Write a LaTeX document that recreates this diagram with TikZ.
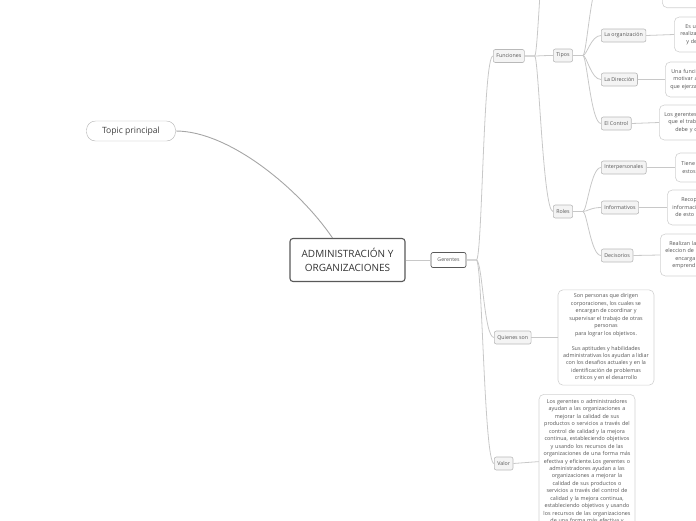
\documentclass[tikz,border=0pt]{standalone}
\usepackage{fontspec}
\setmainfont{Open Sans}
\usepackage{xcolor}
\usetikzlibrary{calc}
\definecolor{trazo}{HTML}{C8C8C8}
\definecolor{letra}{HTML}{555555}
\tikzset{
  tema/.style={draw=gray!60,fill=white,rounded corners=9pt,minimum width=89pt,minimum height=20pt,inner sep=0pt,font=\fontsize{8.6}{10}\selectfont,text=black!75},
  central/.style={draw=black!65,line width=1.1pt,fill=white,rounded corners=3pt,minimum width=115pt,minimum height=43pt,align=center,font=\fontsize{10}{13.8}\selectfont,text=black!80},
  rama/.style={draw=black!65,line width=0.7pt,fill=white,rounded corners=2pt,minimum width=35pt,minimum height=15pt,inner sep=0pt,font=\fontsize{5.2}{6}\selectfont,text=letra},
  tema2/.style={draw=gray!55,line width=0.6pt,fill=gray!9,rounded corners=2pt,minimum height=13pt,inner xsep=3pt,inner ysep=0pt,anchor=west,font=\fontsize{5.3}{6}\selectfont,text=letra},
  hoja/.style={draw=gray!35,line width=0.6pt,fill=white,rounded corners=5pt,align=center,inner sep=4pt,font=\fontsize{5.4}{7.45}\selectfont,text=letra},
  corte/.style={hoja,anchor=west,align=left,text width=60pt,minimum width=70pt},
  enlace/.style={draw=trazo,line width=0.8pt},
  enlace0/.style={draw=gray!70,line width=0.9pt}
}

\begin{document}
\begin{tikzpicture}[x=1pt,y=-1pt]
\useasboundingbox (0,0) rectangle (696,520);
\clip (0,0) rectangle (696,520);
% nodos principales
\node[tema] (topic) at (131,131) {Topic principal};
\node[central] (admin) at (347.5,260) {ADMINISTRACIÓN Y\\ORGANIZACIONES};
\node[rama] (ger) at (448.5,260) {Gerentes};
% segundo nivel
\node[tema2] (fun) at (493,56) {Funciones};
\node[tema2] (quien) at (494,337.5) {Quienes son};
\node[tema2] (valor) at (494,463.5) {Valor};
% funciones
\coordinate (otra) at (553,-120);
\node[tema2] (tipos) at (553,55.5) {Tipos};
\node[tema2] (roles) at (553,211.5) {Roles};
% tipos
\coordinate (plan) at (601,-22);
\node[tema2] (org) at (601,35.5) {La organización};
\node[tema2] (dir) at (601,79.5) {La Dirección};
\node[tema2] (ctrl) at (601,123.5) {El Control};
% roles
\node[tema2] (inter) at (601,167.5) {Interpersonales};
\node[tema2] (info) at (601,207.5) {Informativos};
\node[tema2] (deci) at (601,255.5) {Decisorios};
% hojas cortadas por el borde
\node[hoja,anchor=south west,minimum width=70pt,minimum height=34pt] (planhoja) at (662,8) {};
\node[corte,minimum height=35pt] (orghoja) at (674,34.5) {\hspace*{6pt}Es un\\\hspace*{1pt}realiza\\\hspace*{7pt}y de};
\node[corte,minimum height=35pt] (dirhoja) at (665,79.5) {\hspace*{1pt}Una funció\\\hspace*{3pt}motivar a\\que ejerza};
\node[corte,minimum height=35pt] (ctrlhoja) at (659,122.5) {Los gerentes\\\hspace*{4pt}que el trabaj\\\hspace*{11pt}debe y q};
\node[corte,minimum height=29pt] (interhoja) at (675,167.5) {\hspace*{1pt}Tiene\\\hspace*{2pt}estos};
\node[corte,minimum height=35pt] (infohoja) at (667,207.5) {\hspace*{9pt}Recop\\informaci\\\hspace*{3pt}de esto s};
\node[corte,minimum height=42pt] (decihoja) at (660,255) {\hspace*{4pt}Realizan la\\eleccion de\\\hspace*{10pt}encarga\\\hspace*{7pt}emprend};
% hojas completas
\node[hoja,minimum width=96pt,minimum height=94pt] (quienhoja) at (606,337.5) {Son personas que dirigen\\corporaciones, los cuales se\\encargan de coordinar y\\supervisar el trabajo de otras\\personas\\para lograr los objetivos.\\[7.45pt]Sus aptitudes y habilidades\\administrativas los ayudan a lidiar\\con los desafios actuales y en la\\identificación de problemas\\criticos y en el desarrollo};
\node[hoja,anchor=north,text width=88pt,inner ysep=5pt] (valorhoja) at (587,394) {Los gerentes o administradores\\ayudan a las organizaciones a\\mejorar la calidad de sus\\productos o servicios a través del\\control de calidad y la mejora\\continua, estableciendo objetivos\\y usando los recursos de las\\organizaciones de una forma más\\efectiva y eficiente.Los gerentes o\\administradores ayudan a las\\organizaciones a mejorar la\\calidad de sus productos o\\servicios a través del control de\\calidad y la mejora continua,\\estableciendo objetivos y usando\\los recursos de las organizaciones\\de una forma más efectiva y};
% conectores
\draw[enlace0] (topic.east) .. controls (230,131) and (300,190) .. ([xshift=-15pt]admin.north);
\draw[enlace] (admin.east) -- (ger.west);
\foreach \hijo in {fun,quien,valor}
  \draw[enlace] (ger.east) -- ++(10,0) .. controls +(6,0) and +(-10,0) .. (\hijo.west);
\draw[enlace] (fun.east) -- ++(10,0) .. controls +(4,0) and +(-10,0) .. (otra);
\foreach \hijo in {tipos,roles}
  \draw[enlace] (fun.east) -- ++(10,0) .. controls +(4,0) and +(-10,0) .. (\hijo.west);
\draw[enlace] (tipos.east) -- ++(10,0) .. controls +(4,0) and +(-10,0) .. (plan);
\foreach \hijo in {org,dir,ctrl}
  \draw[enlace] (tipos.east) -- ++(10,0) .. controls +(4,0) and +(-10,0) .. (\hijo.west);
\foreach \hijo in {inter,info,deci}
  \draw[enlace] (roles.east) -- ++(10,0) .. controls +(4,0) and +(-10,0) .. (\hijo.west);
\foreach \hijo in {org,dir,ctrl,inter,info,deci,quien,valor}
  \draw[enlace] (\hijo.east) -- (\hijo hoja.west);
\end{tikzpicture}
\end{document}
